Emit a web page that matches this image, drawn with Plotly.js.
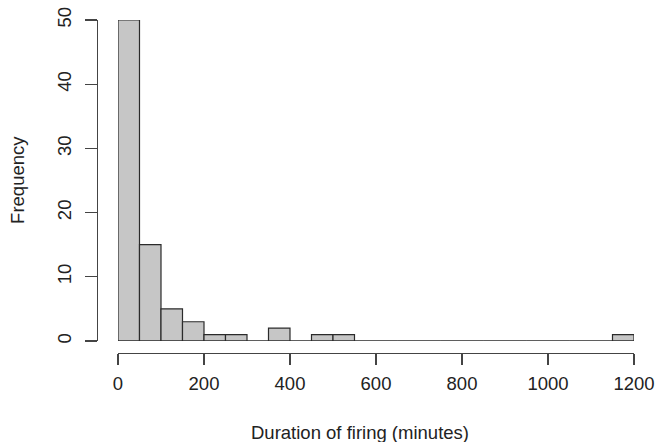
<!DOCTYPE html>
<html>
<head>
<meta charset="utf-8">
<script src="https://cdn.plot.ly/plotly-3.0.1.min.js"></script>
<style>html,body{margin:0;padding:0;background:#fff;}#chart{width:655px;height:442px;}</style>
</head>
<body>
<div id="chart"></div>
<script>
// Histogram bins (minutes): left edges, width 50
var binStarts = [0,50,100,150,200,250,300,350,400,450,500,550,600,650,700,750,800,850,900,950,1000,1050,1100,1150];
var binWidth = 50;
var counts = [50,15,5,3,1,1,0,2,0,1,1,0,0,0,0,0,0,0,0,0,0,0,0,1];
var xTicks = [0,200,400,600,800,1000,1200];
var yTicks = [0,10,20,30,40,50];

var mids = binStarts.map(function(s){return s + binWidth/2;});
var baseX = [binStarts[0], binStarts[binStarts.length-1] + binWidth];

var font = {family: 'Liberation Sans, Arial, sans-serif', size: 18.5, color: '#222'};

var traces = [
  {type:'bar', x: mids, y: counts, width: binWidth,
   marker:{color:'#c6c6c6', line:{color:'#2b2b2b', width:1.2}},
   hoverinfo:'x+y', showlegend:false},
  {type:'scatter', mode:'lines', x: baseX, y:[0,0],
   line:{color:'#2b2b2b', width:1.2}, hoverinfo:'skip', showlegend:false}
];

var layout = {
  width:655, height:442,
  margin:{l:97, r:21, t:20, b:89},
  paper_bgcolor:'#fff', plot_bgcolor:'#fff',
  font: font,
  bargap: 0,
  xaxis:{domain:[0.0391,1], range:[0,1200], anchor:'free', position:0,
    tickvals:xTicks, ticktext:xTicks.map(String), ticks:'outside', ticklen:11, tickwidth:1.2, tickcolor:'#444',
    showline:true, linecolor:'#444', linewidth:1.2, showgrid:false, zeroline:false,
    ticklabelstandoff:3, tickfont:font},
  yaxis:{domain:[0.036,1], range:[0,50], anchor:'free', position:0,
    tickvals:yTicks, ticktext:yTicks.map(String), ticks:'outside', ticklen:12, tickwidth:1.2, tickcolor:'#444',
    showline:true, linecolor:'#444', linewidth:1.2, showgrid:false, zeroline:false,
    tickangle:-90, ticklabelstandoff:7, tickfont:font},
  annotations:[
    {text:'Duration of firing (minutes)', xref:'paper', yref:'paper', x:0.49, y:-0.24,
     xanchor:'center', yanchor:'middle', showarrow:false, font:font},
    {text:'Frequency', xref:'paper', yref:'paper', x:-0.147, y:0.52,
     xanchor:'center', yanchor:'middle', textangle:-90, showarrow:false, font:font}
  ]
};

Plotly.newPlot('chart', traces, layout, {displayModeBar:false, staticPlot:true});
</script>
</body>
</html>
